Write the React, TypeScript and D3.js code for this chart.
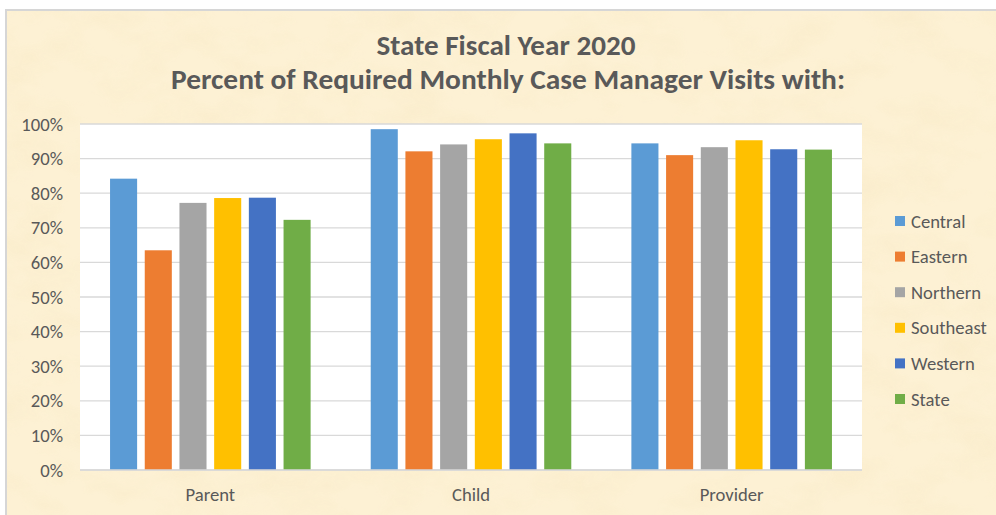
import React from 'react';
import * as d3 from 'd3';

const categories = ['Parent', 'Child', 'Provider'];
const seriesNames = ['Central', 'Eastern', 'Northern', 'Southeast', 'Western', 'State'];
const seriesColors = ['#5B9BD5', '#ED7D31', '#A5A5A5', '#FFC000', '#4472C4', '#70AD47'];
const central = [0.842, 0.985, 0.944];
const eastern = [0.635, 0.921, 0.91];
const northern = [0.772, 0.941, 0.933];
const southeast = [0.786, 0.956, 0.953];
const western = [0.787, 0.973, 0.927];
const state = [0.723, 0.944, 0.926];
const seriesValues = [central, eastern, northern, southeast, western, state];
const yTicks = [0, 0.1, 0.2, 0.3, 0.4, 0.5, 0.6, 0.7, 0.8, 0.9, 1.0];
const titleLine1 = 'State Fiscal Year 2020';
const titleLine2 = 'Percent of Required Monthly Case Manager Visits with:';

const W = 996;
const H = 515;
const plot = { left: 80, right: 862, top: 124, bottom: 470 };
const FONT = "Carlito, Calibri, 'Open Sans', sans-serif";

export default function App() {
  const x0 = d3.scaleBand<string>().domain(categories).range([plot.left, plot.right]).padding(0);
  const x1 = d3
    .scaleBand<string>()
    .domain(seriesNames)
    .range([0, x0.bandwidth()])
    .paddingInner(0.22)
    .paddingOuter(0.866);
  const y = d3.scaleLinear().domain([0, 1]).range([plot.bottom, plot.top]);
  const fmt = d3.format('.0%');

  return (
    <svg
      width={W}
      height={H}
      style={{ position: 'absolute', left: 0, top: 0, display: 'block' }}
      fontFamily={FONT}
    >
      <defs>
        <filter id="parch" x="0" y="0" width="100%" height="100%">
          <feTurbulence type="fractalNoise" baseFrequency="0.018 0.03" numOctaves={4} seed={7} result="n" />
          <feColorMatrix
            in="n"
            type="matrix"
            values="0 0 0 0 0.88  0 0 0 0 0.74  0 0 0 0 0.45  0.5 0 0 0 -0.2"
          />
        </filter>
      </defs>
      <rect x={0} y={0} width={W} height={H} fill="#ffffff" />
      <rect x={6} y={10} width={W} height={H} fill="#FDF1D4" />
      <rect x={6} y={10} width={W} height={H} filter="url(#parch)" opacity={0.85} />
      <path d={`M6,${H} V10 H${W}`} fill="none" stroke="#D6D6D6" strokeWidth={2} />

      <text x={506} y={55} textAnchor="middle" fontSize={29} fontWeight="bold" fill="#595959"
        textLength={259} lengthAdjust="spacingAndGlyphs">{titleLine1}</text>
      <text x={508} y={89} textAnchor="middle" fontSize={29} fontWeight="bold" fill="#595959"
        textLength={674} lengthAdjust="spacingAndGlyphs">{titleLine2}</text>

      <rect x={plot.left} y={plot.top} width={plot.right - plot.left} height={plot.bottom - plot.top} fill="#ffffff" />

      {yTicks.map((t) => (
        <g key={t}>
          <line x1={plot.left} x2={plot.right} y1={y(t)} y2={y(t)} stroke="#D9D9D9" strokeWidth={1.3} />
          <text x={63} y={y(t) + 6.5} textAnchor="end" fontSize={18.67} fill="#595959">{fmt(t)}</text>
        </g>
      ))}

      {categories.map((c, ci) => (
        <g key={c} transform={`translate(${x0(c)},0)`}>
          {seriesNames.map((s, si) => (
            <rect
              key={s}
              x={x1(s)}
              y={y(seriesValues[si][ci])}
              width={x1.bandwidth()}
              height={y(0) - y(seriesValues[si][ci])}
              fill={seriesColors[si]}
            />
          ))}
          <text x={x0.bandwidth() / 2} y={501} textAnchor="middle" fontSize={18.67} fill="#595959">{c}</text>
        </g>
      ))}
      <line x1={plot.left} x2={plot.right} y1={y(0)} y2={y(0)} stroke="#D9D9D9" strokeWidth={1.3} />

      {seriesNames.map((s, si) => {
        const cy = 221 + si * 35.6;
        return (
          <g key={s}>
            <rect x={895} y={cy - 5} width={10} height={10} fill={seriesColors[si]} />
            <text x={911} y={cy + 6.5} fontSize={18.67} fill="#595959">{s}</text>
          </g>
        );
      })}
    </svg>
  );
}
